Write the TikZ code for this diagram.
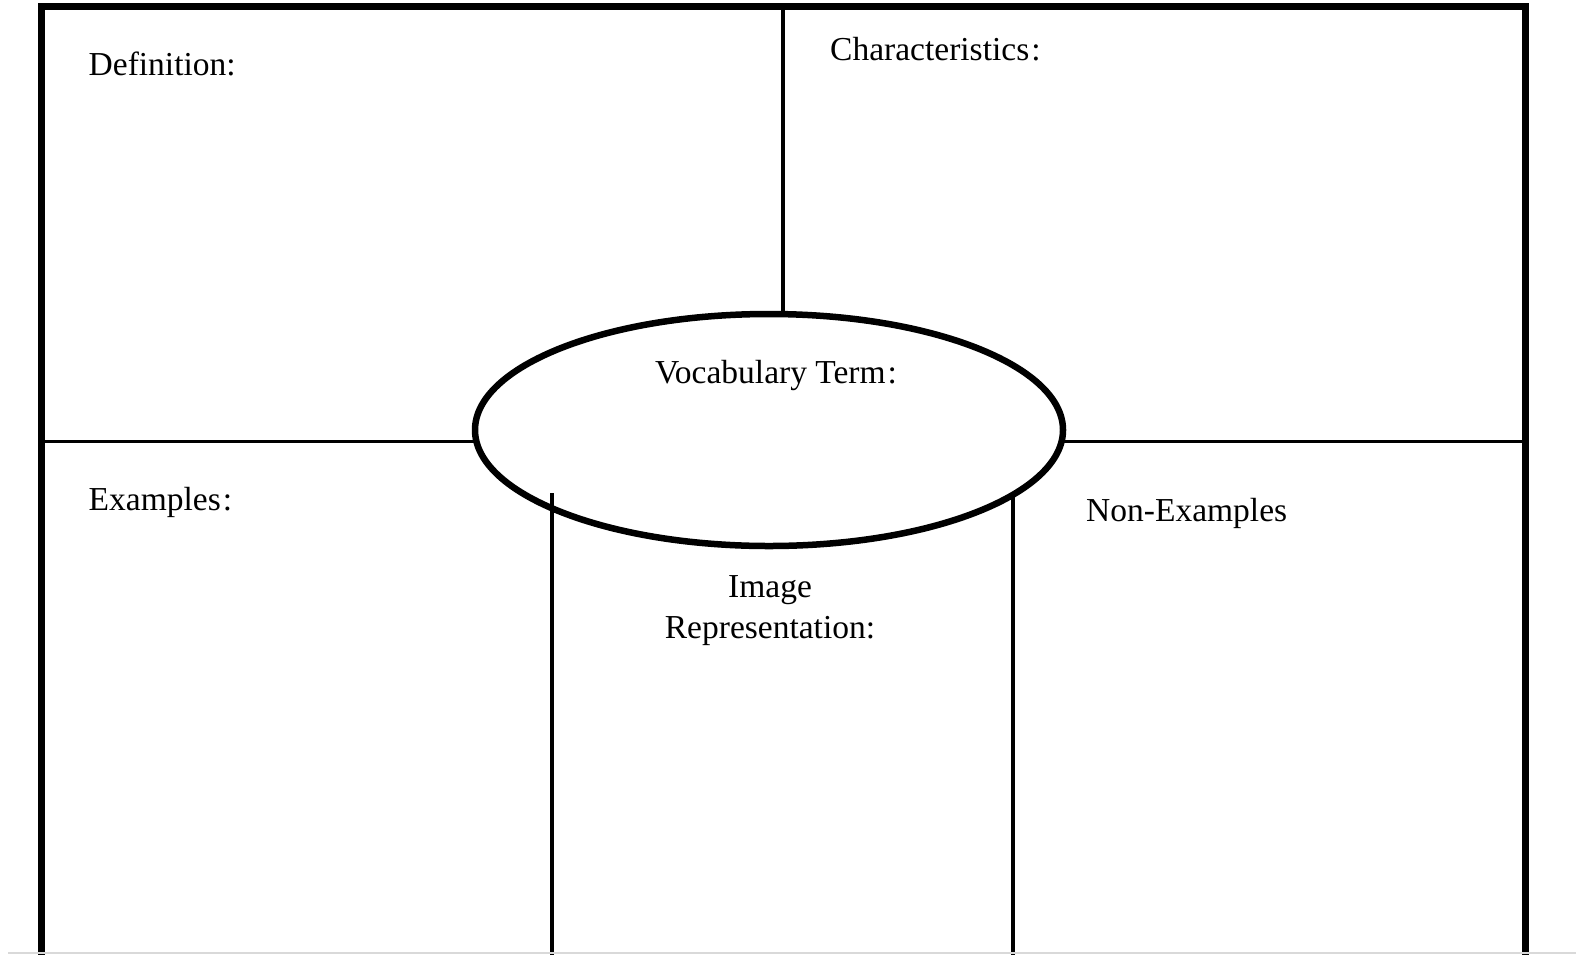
\documentclass[tikz,border=0pt]{standalone}
\usepackage{fontspec}
\setmainfont{Liberation Serif}
\usetikzlibrary{shapes.geometric}
\tikzset{
  frameline/.style={line width=7pt, line cap=rect},
  gridline/.style={line width=3.8pt},
  termoval/.style={ellipse, draw, line width=6.5pt, minimum width=588pt, minimum height=232pt, inner sep=0pt},
  boxlabel/.style={inner sep=0pt, font=\fontsize{33.5}{41}\selectfont},
}
\begin{document}
\begin{tikzpicture}[x=1pt, y=-1pt]
  \useasboundingbox[fill=white] (0,0) rectangle (1576,954);

  % outer frame (open at the bottom of the sheet)
  \coordinate (tl) at (41,6.5);
  \coordinate (tr) at (1525,6.5);
  \coordinate (bl) at (41,960);
  \coordinate (br) at (1525,960);
  \draw[frameline] (bl) -- (tl) -- (tr) -- (br);

  % central oval
  \node[termoval] (term) at (769,430) {};

  % dividers
  \coordinate (topmid) at (783,6.5);
  \coordinate (ovaltop) at (783,314);
  \draw[gridline] (topmid) -- (ovaltop);

  \coordinate (lmid) at (41,441.5);
  \coordinate (ovalw) at (476,441.5);
  \coordinate (ovale) at (1062,441.5);
  \coordinate (rmid) at (1525,441.5);
  \draw[gridline] (lmid) -- (ovalw);
  \draw[gridline] (ovale) -- (rmid);

  \coordinate (lvtop) at (552,493);
  \coordinate (lvbot) at (552,960);
  \coordinate (rvtop) at (1013,494);
  \coordinate (rvbot) at (1013,960);
  \draw[gridline] (lvtop) -- (lvbot);
  \draw[gridline] (rvtop) -- (rvbot);

  % faint page edge
  \coordinate (edgeL) at (8,952.8);
  \coordinate (edgeR) at (1576,952.8);
  \draw[line width=1.5pt, black!15] (edgeL) -- (edgeR);

  % labels
  \node[boxlabel, anchor=base west] (deflbl) at (88.5,75.5) {Definition:};
  \node[boxlabel, anchor=base west] (charlbl) at (830,60.5) {Characteristics\kern2pt:};
  \node[boxlabel, anchor=base] (termlbl) at (776,383) {Vocabulary Term\kern2pt:};
  \node[boxlabel, anchor=base west] (exlbl) at (88.5,510) {Examples\kern2pt:};
  \node[boxlabel, anchor=base west] (nonexlbl) at (1086,521) {Non-Examples};
  \node[boxlabel, anchor=base] (imglbl) at (770,597) {Image};
  \node[boxlabel, anchor=base] (replbl) at (770,638) {Representation:};
\end{tikzpicture}
\end{document}
